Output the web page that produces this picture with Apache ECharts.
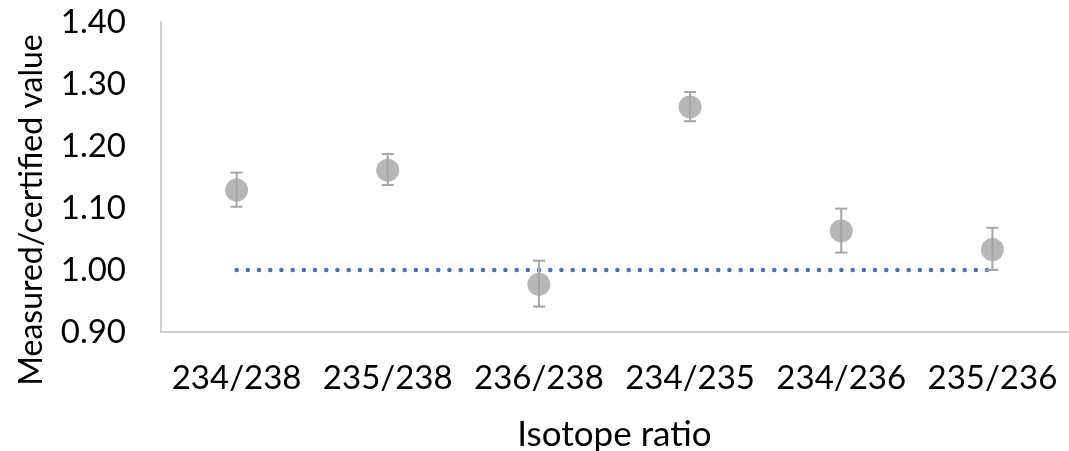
<!DOCTYPE html>
<html>
<head>
<meta charset="utf-8">
<style>
  html, body { margin: 0; padding: 0; background: #fff; }
  #chart { width: 1069px; height: 451px; }
</style>
<script src="https://cdn.jsdelivr.net/npm/echarts@6/dist/echarts.min.js"></script>
</head>
<body>
<div id="chart"></div>
<script>
// Isotope ratios and their measured/certified values with uncertainties
const categories = ['234/238', '235/238', '236/238', '234/235', '234/236', '235/236'];
const ratioValues = [1.129, 1.161, 0.977, 1.263, 1.063, 1.033];
const errLow = [1.102, 1.137, 0.941, 1.240, 1.028, 1.000];
const errHigh = [1.157, 1.187, 1.015, 1.287, 1.099, 1.068];
const referenceLine = [1, 1, 1, 1, 1, 1];
const yTicks = { min: 0.9, max: 1.4, interval: 0.1 };
const yTitle = 'Measured/certified value';
const xTitle = 'Isotope ratio';

const FONT = 'Lato';
const GREY = '#A5A5A5';
const AXIS = '#BFBFBF';

const chart = echarts.init(document.getElementById('chart'), null, { renderer: 'canvas' });

const errorData = categories.map((c, i) => [i, errLow[i], errHigh[i]]);

chart.setOption({
  animation: false,
  backgroundColor: '#ffffff',
  grid: { left: 161, right: 1, top: 22, bottom: 119, containLabel: false, outerBoundsMode: 'none' },
  // vertical axis title, set a little below the plot's middle
  graphic: [{
    type: 'text',
    x: 32,
    y: 210,
    rotation: Math.PI / 2,
    style: {
      text: yTitle,
      fill: '#000',
      font: '32px Lato',
      textAlign: 'center',
      textVerticalAlign: 'middle'
    }
  }],
  xAxis: {
    type: 'category',
    data: categories,
    boundaryGap: true,
    axisLine: { show: true, lineStyle: { color: AXIS, width: 1.5 } },
    axisTick: { show: false },
    splitLine: { show: false },
    axisLabel: { color: '#000', fontFamily: FONT, fontSize: 33, margin: 30, interval: 0 },
    name: xTitle,
    nameLocation: 'middle',
    nameGap: 85,
    nameTextStyle: { color: '#000', fontFamily: FONT, fontSize: 35 }
  },
  yAxis: {
    type: 'value',
    min: yTicks.min,
    max: yTicks.max,
    interval: yTicks.interval,
    axisLine: { show: true, lineStyle: { color: AXIS, width: 1.5 } },
    axisTick: { show: false },
    splitLine: { show: false },
    axisLabel: {
      color: '#000', fontFamily: FONT, fontSize: 33, margin: 35,
      formatter: v => v.toFixed(2)
    }
  },
  series: [
    {
      // dotted reference at 1.00
      type: 'line',
      data: referenceLine,
      symbol: 'none',
      z: 2,
      lineStyle: { color: '#4472C4', width: 4.5, type: [0.1, 11.1], cap: 'round' }
    },
    {
      // error bars with caps
      type: 'custom',
      data: errorData,
      z: 3,
      renderItem: (params, api) => {
        const x = api.value(0);
        const lo = api.coord([x, api.value(1)]);
        const hi = api.coord([x, api.value(2)]);
        const half = 6;
        const style = { stroke: GREY, lineWidth: 2, fill: null };
        return {
          type: 'group',
          children: [
            { type: 'line', shape: { x1: lo[0], y1: lo[1], x2: hi[0], y2: hi[1] }, style },
            { type: 'line', shape: { x1: hi[0] - half, y1: hi[1], x2: hi[0] + half, y2: hi[1] }, style },
            { type: 'line', shape: { x1: lo[0] - half, y1: lo[1], x2: lo[0] + half, y2: lo[1] }, style }
          ]
        };
      }
    },
    {
      type: 'scatter',
      data: ratioValues,
      symbol: 'circle',
      symbolSize: 23,
      z: 4,
      itemStyle: { color: GREY }
    }
  ]
});
</script>
</body>
</html>
